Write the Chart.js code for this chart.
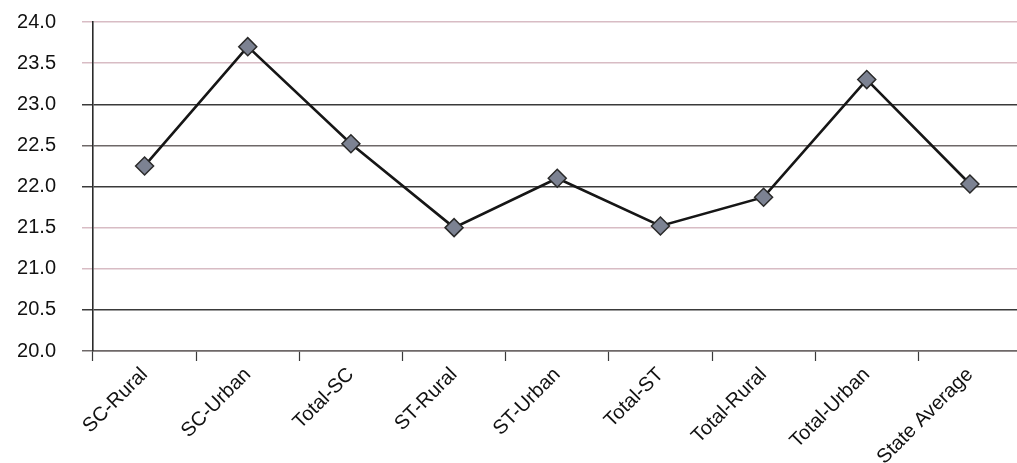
<!DOCTYPE html>
<html>
<head>
<meta charset="utf-8">
<style>
  html, body { margin: 0; padding: 0; background: #ffffff; overflow: hidden; }
  #wrap { width: 1017px; height: 463px; position: relative; overflow: hidden; }
  #chart { display: block; }
</style>
<script src="https://cdn.jsdelivr.net/npm/chart.js@4/dist/chart.umd.min.js"></script>
</head>
<body>
<div id="wrap"><canvas id="chart" width="1032" height="463"></canvas></div>
<script>
// Categories along the x axis
const categories = ['SC-Rural', 'SC-Urban', 'Total-SC', 'ST-Rural', 'ST-Urban',
                    'Total-ST', 'Total-Rural', 'Total-Urban', 'State Average'];
// Values plotted for each category
const values = [22.25, 23.7, 22.52, 21.5, 22.1, 21.52, 21.87, 23.3, 22.03];
// Y axis range and tick step
const yMin = 20.0;
const yMax = 24.0;
const yStep = 0.5;

// Horizontal rule colour by tick value (some rules print dark, some faint)
function gridColor(v) {
  const dark = [23.0, 22.0, 20.5];
  const mid = [22.5, 20.0];
  if (dark.some(d => Math.abs(d - v) < 1e-6)) return '#3a3a3a';
  if (mid.some(d => Math.abs(d - v) < 1e-6)) return '#6e6868';
  return '#d8bcc4';
}

const whiteBg = {
  id: 'whiteBg',
  beforeDraw(chart) {
    const c = chart.ctx;
    c.save();
    c.fillStyle = '#ffffff';
    c.fillRect(0, 0, chart.width, chart.height);
    c.restore();
  }
};

const fontFamily = '"Liberation Sans", Arial, Helvetica, sans-serif';

new Chart(document.getElementById('chart'), {
  type: 'line',
  data: {
    labels: categories,
    datasets: [{
      data: values,
      borderColor: '#161616',
      borderWidth: 2.6,
      tension: 0,
      fill: false,
      pointStyle: 'rectRot',
      pointRadius: 9,
      pointHoverRadius: 9,
      pointBackgroundColor: '#7c8292',
      pointBorderColor: '#2a2a2a',
      pointBorderWidth: 1.5
    }]
  },
  options: {
    responsive: false,
    animation: false,
    devicePixelRatio: 1,
    layout: { padding: { top: 22, right: 0, left: 0, bottom: 0 } },
    plugins: {
      legend: { display: false },
      tooltip: { enabled: false }
    },
    scales: {
      x: {
        type: 'category',
        offset: true,
        grid: {
          offset: true,
          drawOnChartArea: false,
          drawTicks: true,
          tickLength: 10,
          tickColor: '#3a3a3a',
          tickWidth: 1.2
        },
        border: { display: true, color: '#6e6868', width: 1.5 },
        ticks: {
          minRotation: 45,
          maxRotation: 45,
          autoSkip: false,
          padding: 2,
          color: '#111111',
          font: { family: fontFamily, size: 20 }
        },
        afterFit(scale) {
          scale.height = 112;
          scale.paddingTop = 0;
          scale.paddingRight = 0;
          scale.paddingLeft = 0;
        }
      },
      y: {
        min: yMin,
        max: yMax,
        ticks: {
          stepSize: yStep,
          padding: 26,
          color: '#111111',
          font: { family: fontFamily, size: 20 },
          callback: (v) => Number(v).toFixed(1)
        },
        grid: {
          color: (ctx) => gridColor(ctx.tick ? ctx.tick.value : 0),
          lineWidth: 1.5,
          drawTicks: true,
          tickLength: 11
        },
        border: { display: true, color: '#2a2a2a', width: 1.6 },
        afterFit(scale) {
          scale.width = 93;
          scale.paddingTop = 0;
          scale.paddingBottom = 0;
        }
      }
    }
  },
  plugins: [whiteBg]
});
</script>
</body>
</html>
